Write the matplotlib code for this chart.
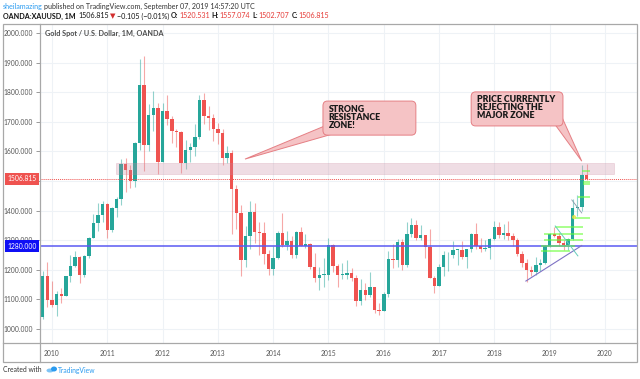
import matplotlib
matplotlib.use("Agg")
import matplotlib.pyplot as plt
from matplotlib.patches import Rectangle, Polygon, FancyBboxPatch, Ellipse
from matplotlib.lines import Line2D

plt.rcParams['font.family'] = ['Lato', 'DejaVu Sans']

# ---------------- data (monthly XAU/USD candles) ----------------
months = ["2009-11", "2009-12",
          "2010-01", "2010-02", "2010-03", "2010-04", "2010-05", "2010-06", "2010-07", "2010-08", "2010-09", "2010-10", "2010-11", "2010-12",
          "2011-01", "2011-02", "2011-03", "2011-04", "2011-05", "2011-06", "2011-07", "2011-08", "2011-09", "2011-10", "2011-11", "2011-12",
          "2012-01", "2012-02", "2012-03", "2012-04", "2012-05", "2012-06", "2012-07", "2012-08", "2012-09", "2012-10", "2012-11", "2012-12",
          "2013-01", "2013-02", "2013-03", "2013-04", "2013-05", "2013-06", "2013-07", "2013-08", "2013-09", "2013-10", "2013-11", "2013-12",
          "2014-01", "2014-02", "2014-03", "2014-04", "2014-05", "2014-06", "2014-07", "2014-08", "2014-09", "2014-10", "2014-11", "2014-12",
          "2015-01", "2015-02", "2015-03", "2015-04", "2015-05", "2015-06", "2015-07", "2015-08", "2015-09", "2015-10", "2015-11", "2015-12",
          "2016-01", "2016-02", "2016-03", "2016-04", "2016-05", "2016-06", "2016-07", "2016-08", "2016-09", "2016-10", "2016-11", "2016-12",
          "2017-01", "2017-02", "2017-03", "2017-04", "2017-05", "2017-06", "2017-07", "2017-08", "2017-09", "2017-10", "2017-11", "2017-12",
          "2018-01", "2018-02", "2018-03", "2018-04", "2018-05", "2018-06", "2018-07", "2018-08", "2018-09", "2018-10", "2018-11", "2018-12",
          "2019-01", "2019-02", "2019-03", "2019-04", "2019-05", "2019-06", "2019-07", "2019-08", "2019-09"]

opens = [1040, 1180,
         1097, 1081, 1118, 1113, 1180, 1213, 1244, 1181, 1248, 1309, 1358, 1385,
         1421, 1333, 1409, 1439, 1556, 1536, 1500, 1628, 1826, 1620, 1723, 1746,
         1565, 1737, 1710, 1669, 1664, 1561, 1604, 1615, 1648, 1773, 1719, 1713,
         1675, 1663, 1578, 1596, 1472, 1392, 1234, 1313, 1396, 1327, 1323, 1253,
         1202, 1240, 1326, 1284, 1296, 1250, 1327, 1282, 1287, 1210, 1171, 1183,
         1184, 1283, 1213, 1183, 1183, 1190, 1172, 1095, 1133, 1115, 1142, 1065,
         1061, 1118, 1238, 1234, 1293, 1215, 1322, 1351, 1309, 1316, 1277, 1173,
         1146, 1211, 1249, 1249, 1268, 1268, 1242, 1269, 1322, 1280, 1271, 1275,
         1303, 1345, 1318, 1325, 1315, 1299, 1253, 1224, 1201, 1192, 1215, 1222,
         1282, 1321, 1313, 1292, 1283, 1305, 1409, 1413, 1520.531]

highs = [1195, 1227,
         1162, 1128, 1140, 1180, 1249, 1265, 1245, 1250, 1310, 1388, 1424, 1431,
         1424, 1411, 1447, 1576, 1577, 1553, 1632, 1912, 1921, 1761, 1803, 1764,
         1764, 1791, 1720, 1676, 1669, 1640, 1630, 1691, 1790, 1796, 1754, 1727,
         1695, 1677, 1617, 1606, 1488, 1420, 1348, 1434, 1424, 1362, 1361, 1267,
         1280, 1332, 1392, 1331, 1315, 1332, 1345, 1322, 1291, 1256, 1208, 1239,
         1307, 1287, 1220, 1224, 1232, 1205, 1182, 1170, 1157, 1191, 1142, 1088,
         1126, 1263, 1287, 1304, 1304, 1362, 1375, 1367, 1352, 1318, 1337, 1180,
         1220, 1264, 1261, 1296, 1270, 1296, 1270, 1326, 1357, 1306, 1299, 1307,
         1366, 1361, 1356, 1366, 1326, 1309, 1265, 1237, 1214, 1243, 1237, 1285,
         1326, 1346, 1324, 1302, 1306, 1439, 1453, 1555, 1557.074]

lows = [1035, 1075,
        1075, 1045, 1088, 1112, 1160, 1210, 1157, 1176, 1240, 1308, 1330, 1360,
        1309, 1327, 1380, 1418, 1462, 1478, 1480, 1605, 1535, 1600, 1670, 1523,
        1563, 1688, 1627, 1614, 1527, 1540, 1564, 1583, 1643, 1692, 1672, 1636,
        1626, 1555, 1562, 1321, 1338, 1180, 1208, 1271, 1291, 1251, 1221, 1181,
        1182, 1238, 1277, 1268, 1240, 1240, 1281, 1273, 1204, 1160, 1131, 1142,
        1167, 1191, 1142, 1170, 1170, 1163, 1077, 1080, 1098, 1108, 1053, 1046,
        1061, 1107, 1207, 1208, 1200, 1208, 1310, 1302, 1302, 1241, 1171, 1122,
        1146, 1180, 1195, 1240, 1215, 1236, 1205, 1260, 1270, 1261, 1264, 1237,
        1302, 1307, 1303, 1302, 1281, 1245, 1211, 1160, 1180, 1183, 1196, 1221,
        1276, 1311, 1281, 1266, 1267, 1301, 1381, 1400, 1502.707]

closes = [1180, 1097,
          1081, 1118, 1113, 1180, 1213, 1244, 1181, 1248, 1309, 1358, 1385, 1421,
          1333, 1409, 1439, 1556, 1536, 1500, 1628, 1826, 1620, 1723, 1746, 1565,
          1737, 1710, 1669, 1664, 1561, 1604, 1615, 1648, 1773, 1719, 1713, 1675,
          1663, 1578, 1596, 1472, 1392, 1234, 1313, 1396, 1327, 1323, 1253, 1202,
          1240, 1326, 1284, 1296, 1250, 1327, 1282, 1287, 1210, 1171, 1183, 1184,
          1283, 1213, 1183, 1183, 1190, 1172, 1095, 1133, 1115, 1142, 1065, 1061,
          1118, 1238, 1234, 1293, 1215, 1322, 1351, 1309, 1316, 1277, 1173, 1146,
          1211, 1249, 1249, 1268, 1268, 1242, 1269, 1322, 1280, 1271, 1275, 1303,
          1345, 1318, 1325, 1315, 1299, 1253, 1224, 1201, 1192, 1215, 1222, 1282,
          1321, 1313, 1292, 1283, 1305, 1409, 1413, 1520, 1506.815]

price_ticks = [1000, 1100, 1200, 1300, 1400, 1500, 1600, 1700, 1800, 1900, 2000]
hidden_price_ticks = [1500]          # covered by the last-price label in the chart
year_ticks = [2010, 2011, 2012, 2013, 2014, 2015, 2016, 2017, 2018, 2019, 2020]

last_price = 1506.815
support_level = 1280.0
zone_start, zone_end = 2011.16, 2020.16
zone_low, zone_high = 1524, 1561

trend_up = ([2018.57, 2019.58], [1162, 1282])
trend_down = ([2019.10, 2019.51], [1348, 1247])
trend_small = ([2019.40, 2019.58], [1436, 1392])

# lime highlight bars: (x0, x1, price_low, price_high)
lime_bars = [(2019.10, 2019.60, 1341, 1348), (2018.90, 2019.60, 1318, 1324),
             (2018.90, 2019.60, 1297, 1304), (2018.84, 2019.46, 1277, 1283),
             (2018.84, 2019.37, 1260, 1266), (2019.58, 2019.73, 1530, 1537),
             (2019.60, 2019.73, 1486, 1499), (2019.51, 2019.73, 1443, 1449),
             (2019.46, 2019.73, 1372, 1378)]
yellow_dot = (2019.44, 1378)

callout1_text = "STRONG\nRESISTANCE\nZONE!"
callout1_box = (2014.90, 1655, 2016.58, 1770)
callout1_ptr = [(2014.92, 1685), (2015.06, 1658), (2013.49, 1574)]
callout2_text = "PRICE CURRENTLY\nREJECTING THE\nMAJOR ZONE"
callout2_box = (2017.58, 1686, 2019.24, 1801)
callout2_ptr = [(2019.10, 1690), (2019.23, 1712), (2019.58, 1567)]

# ---------------- figure ----------------
W, H = 640, 379
fig = plt.figure(figsize=(W / 100, H / 100), dpi=100)
fig.patch.set_facecolor('white')

def fx(px):
    return px / W

def fy(py):
    return 1 - py / H

ax = fig.add_axes([fx(40), fy(343), fx(637) - fx(40), fy(24) - fy(343)])
ax.set_xlim(2009.783, 2020.579)
ax.set_ylim(952.7, 2030.4)
for s in ax.spines.values():
    s.set_visible(False)

ax.set_yticks(price_ticks)
ax.set_yticklabels(["" if p in hidden_price_ticks else f"{p:.3f}" for p in price_ticks])
ax.set_xticks(year_ticks)
ax.set_xticklabels([str(y) for y in year_ticks])
ax.tick_params(axis='y', direction='out', length=3, width=0.6, color='#8a8a8a',
               labelsize=4.9, labelcolor='#555555', pad=2)
ax.tick_params(axis='x', length=0, labelsize=4.9, labelcolor='#555555', pad=5)
ax.grid(True, color='#eef2f6', linewidth=0.8)
ax.set_axisbelow(True)

# candles
GREEN, RED = '#26a69a', '#ef5350'
bw = 0.062
for m, o, h, l, c in zip(months, opens, highs, lows, closes):
    yr, mo = m.split('-')
    x = int(yr) + (int(mo) - 1) / 12
    col = GREEN if c >= o else RED
    ax.plot([x, x], [l, h], color=col, alpha=0.5, lw=0.8, solid_capstyle='butt', zorder=2)
    lo, hi = min(o, c), max(o, c)
    ax.add_patch(Rectangle((x - bw / 2, lo), bw, max(hi - lo, 2.5), facecolor=col,
                           edgecolor='none', zorder=3))

# resistance zone
ax.add_patch(Rectangle((zone_start, zone_low), zone_end - zone_start, zone_high - zone_low,
                       facecolor='#c9879e', alpha=0.28, edgecolor='#c9879e', lw=0.6, zorder=4))

# horizontal levels
ax.axhline(last_price, color='#ef5350', lw=0.7, ls=(0, (1, 1)), zorder=4)
ax.axhline(support_level, color='#5a5af2', lw=1.1, zorder=4)

# lime highlights
for x0, x1, p0, p1 in lime_bars:
    ax.add_patch(Rectangle((x0, p0), x1 - x0, p1 - p0, facecolor='#66ff33', alpha=0.55,
                           edgecolor='none', zorder=5))
ax.add_patch(Ellipse(yellow_dot, 0.075, 14, facecolor='#e8e83a', alpha=0.8, edgecolor='none', zorder=5))

# trend lines
ax.plot(*trend_up, color='#7e72c4', lw=0.8, zorder=5)
ax.plot(*trend_down, color='#66ccbb', lw=0.7, zorder=5)
ax.plot(*trend_small, color='#8899aa', lw=0.6, zorder=5)

# callouts
for txt, (x0, y0, x1, y1), ptr in [(callout1_text, callout1_box, callout1_ptr),
                                   (callout2_text, callout2_box, callout2_ptr)]:
    ax.add_patch(Polygon(ptr, closed=True, facecolor='#f5c3c5', edgecolor='#e57f84', lw=0.7, zorder=6))
    ax.add_patch(FancyBboxPatch((x0, y0), x1 - x0, y1 - y0,
                                boxstyle="round,pad=0,rounding_size=0.08",
                                mutation_aspect=200,
                                facecolor='#f5c3c5', edgecolor='#e57f84', lw=0.7, zorder=7))
    ax.text(x0 + 0.10, y1 - 12, txt, ha='left', va='top', fontsize=6.3, fontweight='heavy',
            color='#1a1a1a', linespacing=0.85, zorder=8)

# chart title inside plot
ax.text(2009.88, 2000, "Gold Spot / U.S. Dollar, 1M, OANDA", ha='left', va='center',
        fontsize=5.2, fontweight='bold', color='#4d4d4d', zorder=8)

# price labels on axis
ax.text(-0.005, last_price, f"{last_price:.3f}", transform=ax.get_yaxis_transform(),
        ha='right', va='center', fontsize=4.9, color='white', zorder=9, clip_on=False,
        bbox=dict(boxstyle='square,pad=0.35', facecolor='#ef5350', edgecolor='none'))
ax.text(-0.005, support_level, f"{support_level:.3f}", transform=ax.get_yaxis_transform(),
        ha='right', va='center', fontsize=4.9, color='white', zorder=9, clip_on=False,
        bbox=dict(boxstyle='square,pad=0.35', facecolor='#0f0ff5', edgecolor='none'))

# ---------------- frame ----------------
ov = fig.add_axes([0, 0, 1, 1], facecolor='none')
ov.set_xlim(0, W)
ov.set_ylim(H, 0)
ov.axis('off')
fc = '#a8a8a8'
ov.add_patch(Rectangle((3, 24), 634, 338, facecolor='none', edgecolor=fc, lw=0.9))
ov.add_line(Line2D([40, 40], [24, 362], color=fc, lw=0.9))
ov.add_line(Line2D([3, 637], [343, 343], color=fc, lw=0.9))

# ---------------- header / footer text ----------------
fig.canvas.draw()
renderer = fig.canvas.get_renderer()

def seq(x_px, y_px, parts, size):
    x = x_px
    for s, color, weight, gap in parts:
        t = fig.text(fx(x), fy(y_px), s, ha='left', va='center', fontsize=size,
                     color=color, fontweight=weight)
        bb = t.get_window_extent(renderer)
        x += bb.width + gap

DK = '#333333'
RV = '#e53935'
seq(3, 6, [("sheilamazing", '#2a9bf0', 'normal', 1.6),
           ("published on TradingView.com, September 07, 2019 14:57:20 UTC", DK, 'normal', 0)], 5.1)
seq(3, 16, [("OANDA:XAUUSD, 1M", '#111111', 'bold', 2.5),
            ("1506.815", '#111111', 'normal', 1.5),
            ("▼", '#d32f2f', 'normal', 1.2),
            ("\u22120.105 (\u22120.01%)", '#111111', 'normal', 1.8),
            ("O:", '#111111', 'bold', 0.8), ("1520.531", RV, 'normal', 1.8),
            ("H:", '#111111', 'bold', 0.8), ("1557.074", RV, 'normal', 1.8),
            ("L:", '#111111', 'bold', 0.8), ("1502.707", RV, 'normal', 1.8),
            ("C:", '#111111', 'bold', 0.8), ("1506.815", RV, 'normal', 0)], 5.1)

fig.text(fx(3), fy(370), "Created with", ha='left', va='center', fontsize=4.9, color='#333333')
ov.add_patch(Ellipse((50, 370.5), 7, 4, facecolor='#7ec4f5', edgecolor='none'))
ov.add_patch(Ellipse((54, 369), 6, 5, facecolor='#2a9bf0', edgecolor='none'))
fig.text(fx(58), fy(370), "TradingView", ha='left', va='center', fontsize=4.9, color='#2a9bf0')

fig.savefig('out.png', dpi=100, facecolor='white')
